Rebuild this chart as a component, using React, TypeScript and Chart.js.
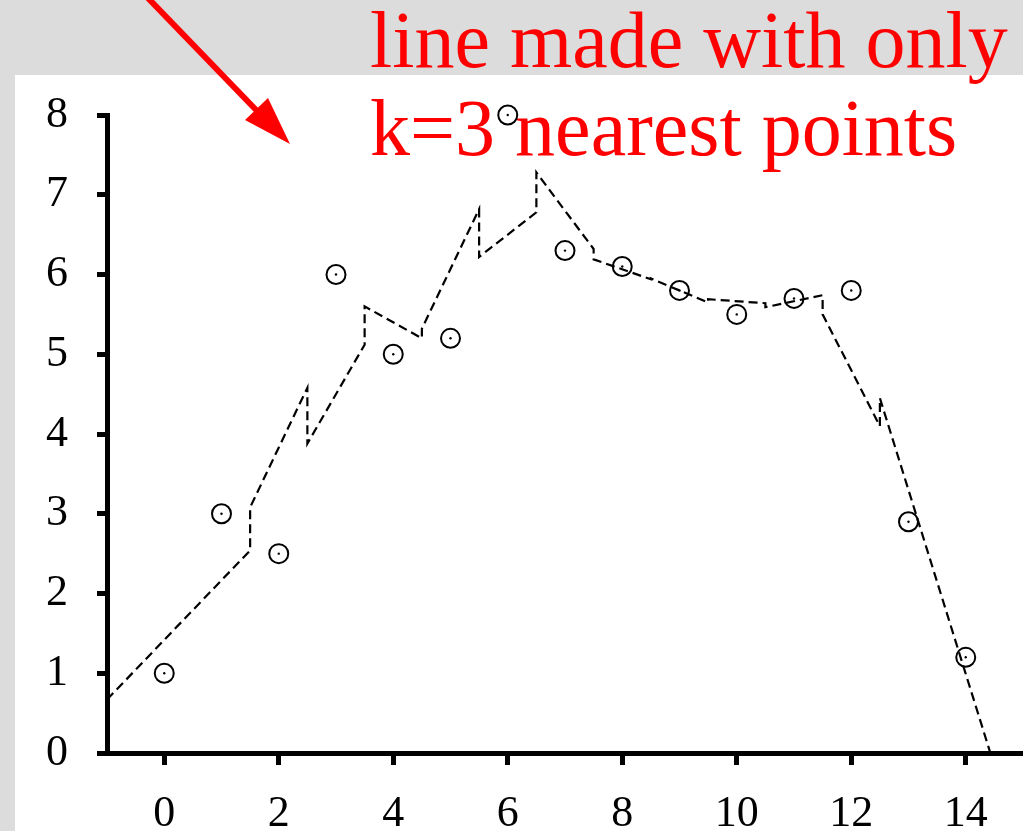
import React, { useEffect, useRef } from "react";
import { Chart, registerables } from "chart.js";

Chart.register(...registerables);

// Observed data points
const pointX = [0, 1, 2, 3, 4, 5, 6, 7, 8, 9, 10, 11, 12, 13, 14];
const pointY = [1, 3, 2.5, 6, 5, 5.2, 8, 6.3, 6.1, 5.8, 5.5, 5.7, 5.8, 2.9, 1.2];

// Dashed k=3 nearest-neighbour line, vertices
const lineX = [-1, 1.5, 1.5, 2.5, 2.5, 3.5, 3.5, 4.5, 4.5, 5.5, 5.5, 6.5, 6.5, 7.5, 7.5, 8.5, 8.5, 9.5, 9.5, 10.5, 10.5, 11.5, 11.5, 12.5, 12.5, 14.43];
const lineY = [0.67, 2.54, 3.08, 4.58, 3.88, 5.12, 5.6, 5.2, 5.32, 6.82, 6.22, 6.78, 7.28, 6.32, 6.19, 5.94, 5.95, 5.65, 5.69, 5.64, 5.59, 5.74, 5.5, 4.1, 4.45, 0];

// Axis ticks
const xTicks = [0, 2, 4, 6, 8, 10, 12, 14];
const yTicks = [0, 1, 2, 3, 4, 5, 6, 7, 8];

const annotationLines = ["line made with only", "k=3 nearest points"];

const W = 1023;
const H = 831;

export default function App() {
  const ref = useRef<HTMLCanvasElement>(null);

  useEffect(() => {
    if (!ref.current) return;
    const arrowPlugin = {
      id: "redArrow",
      afterDraw(chart: any) {
        const ctx = chart.ctx;
        ctx.save();
        ctx.strokeStyle = "#ff0000";
        ctx.fillStyle = "#ff0000";
        ctx.lineWidth = 6;
        ctx.beginPath();
        ctx.moveTo(146, -4);
        ctx.lineTo(260, 114);
        ctx.stroke();
        ctx.beginPath();
        ctx.moveTo(290, 144);
        ctx.lineTo(245, 120);
        ctx.lineTo(268, 98);
        ctx.closePath();
        ctx.fill();
        ctx.restore();
      },
    };

    const font = { family: "'Liberation Serif', 'Times New Roman', serif", size: 44 };

    const chart = new Chart(ref.current, {
      type: "scatter",
      data: {
        datasets: [
          {
            label: "k=3 fit",
            data: lineX.map((x, i) => ({ x, y: lineY[i] })),
            showLine: true,
            borderColor: "#000",
            borderWidth: 2.2,
            borderDash: [9, 5],
            pointRadius: 0,
            fill: false,
          },
          {
            label: "points",
            data: pointX.map((x, i) => ({ x, y: pointY[i] })),
            pointRadius: 9.5,
            pointBorderWidth: 2,
            pointBorderColor: "#000",
            pointBackgroundColor: "rgba(0,0,0,0)",
            clip: false,
          } as any,
          {
            label: "centres",
            data: pointX.map((x, i) => ({ x, y: pointY[i] })),
            pointRadius: 1.2,
            pointBorderWidth: 0,
            pointBackgroundColor: "#000",
            clip: false,
          } as any,
        ],
      },
      options: {
        responsive: false,
        animation: false,
        devicePixelRatio: 1,
        layout: { autoPadding: false, padding: { left: 0, top: 115, right: 0, bottom: 0 } },
        plugins: { legend: { display: false }, tooltip: { enabled: false }, title: { display: false } },
        scales: {
          x: {
            type: "linear",
            min: -1,
            max: 15,
            afterBuildTicks: (axis: any) => {
              axis.ticks = xTicks.map((v) => ({ value: v }));
            },
            afterFit: (axis: any) => {
              axis.height = H - 753;
              axis.paddingRight = 0;
              axis.paddingLeft = 0;
            },
            border: { display: true, color: "#000", width: 5 },
            grid: { drawOnChartArea: false, drawTicks: true, tickLength: 12, tickWidth: 5, tickColor: "#000" },
            ticks: { color: "#000", font, padding: 23, maxRotation: 0, autoSkip: false },
          },
          y: {
            type: "linear",
            min: 0,
            max: 8,
            afterBuildTicks: (axis: any) => {
              axis.ticks = yTicks.map((v) => ({ value: v }));
            },
            afterFit: (axis: any) => {
              axis.width = 107;
              axis.paddingTop = 0;
              axis.paddingBottom = 0;
            },
            border: { display: true, color: "#000", width: 5 },
            grid: { drawOnChartArea: false, drawTicks: true, tickLength: 10, tickWidth: 5, tickColor: "#000" },
            ticks: { color: "#000", font, padding: 29, autoSkip: false },
          },
        },
      } as any,
      plugins: [arrowPlugin],
    });
    return () => chart.destroy();
  }, []);

  return (
    <div style={{ position: "fixed", left: 0, top: 0, width: W, height: H, background: "#dcdcdc", overflow: "hidden" }}>
      <div style={{ position: "absolute", left: 15, top: 75, right: 0, bottom: 0, background: "#fff" }} />
      <div
        style={{
          position: "absolute",
          left: 370,
          top: -4,
          color: "#ff0000",
          fontFamily: "'Liberation Serif', 'Times New Roman', serif",
          fontSize: 80,
          lineHeight: "88px",
          whiteSpace: "nowrap",
        }}
      >
        {annotationLines.map((t) => (
          <div key={t}>{t}</div>
        ))}
      </div>
      <canvas ref={ref} width={W} height={H} style={{ position: "absolute", left: 0, top: 0, width: W, height: H }} />
    </div>
  );
}
